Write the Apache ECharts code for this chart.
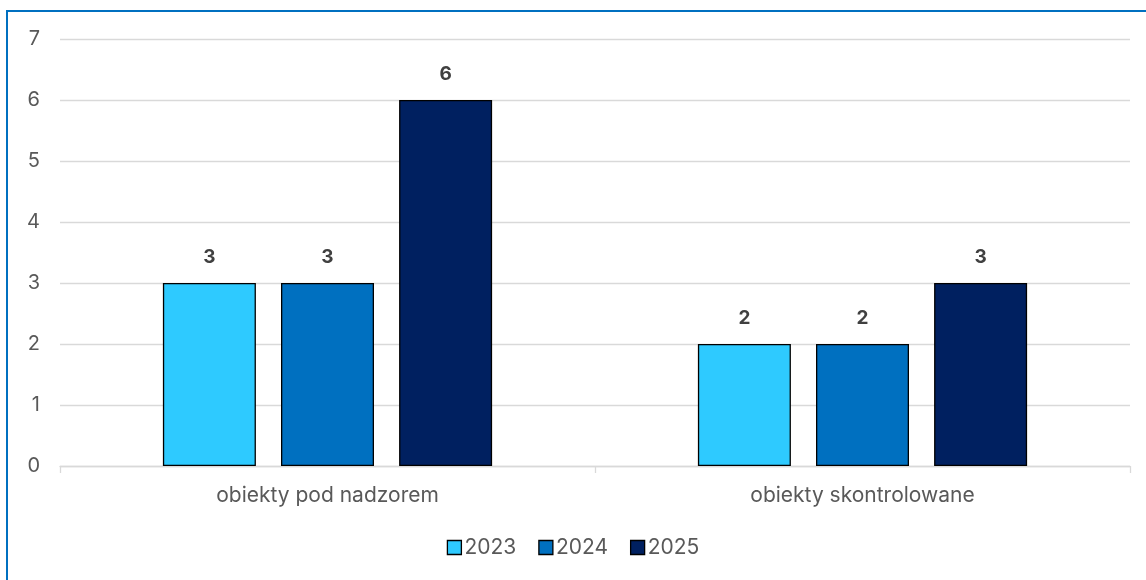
<!DOCTYPE html>
<html lang="pl">
<head>
    <meta charset="UTF-8">
    <title>Obiekty</title>
    <script src="https://cdn.jsdelivr.net/npm/echarts@6/dist/echarts.min.js"></script>
    <style>
        html, body { margin: 0; padding: 0; overflow: hidden; background: #fff; }
        #frame { position: absolute; left: 6px; top: 10px; width: 1200px; height: 640px;
                 border: 2px solid #0070C0; box-sizing: border-box; }
        #myChart { position: absolute; left: 0; top: 0; width: 1146px; height: 580px; }
    </style>
</head>
<body>
 <div id="frame"></div>
 <div id="myChart"></div>
 <script>
     var categories = ['obiekty pod nadzorem', 'obiekty skontrolowane'];
     var years = ['2023', '2024', '2025'];
     var values2023 = [3, 2];
     var values2024 = [3, 2];
     var values2025 = [6, 3];
     var colors = ['#2ECAFF', '#0070C0', '#002060'];

     var allValues = [values2023, values2024, values2025];
     var font = 'Inter, "Open Sans", sans-serif';

     var series = years.map(function (y, i) {
         return {
             name: y,
             type: 'bar',
             data: allValues[i],
             barWidth: 93,
             barGap: '27%',
             itemStyle: { color: colors[i], borderColor: '#000', borderWidth: 1.3 },
             label: {
                 show: true,
                 position: 'top',
                 distance: 16,
                 color: '#404040',
                 fontWeight: 'bold',
                 fontSize: 19,
                 fontFamily: font
             }
         };
     });

     var option = {
         animation: false,
         grid: { left: 60, right: 16, top: 39, bottom: 114 },
         legend: {
             data: years,
             bottom: 17,
             left: 'center',
             itemWidth: 14,
             itemHeight: 14,
             itemGap: 22,
             icon: 'rect',
             itemStyle: { borderColor: '#000', borderWidth: 1.3 },
             textStyle: { color: '#595959', fontSize: 21, fontFamily: font, padding: [0, 0, 0, -2] }
         },
         xAxis: {
             type: 'category',
             data: categories,
             axisLine: { lineStyle: { color: '#d9d9d9', width: 1.3 } },
             axisTick: { show: true, length: 7, lineStyle: { color: '#d9d9d9', width: 1.3 } },
             axisLabel: { color: '#595959', fontSize: 21, fontFamily: font, margin: 19 }
         },
         yAxis: {
             type: 'value',
             min: 0,
             max: 7,
             interval: 1,
             axisLine: { show: false },
             axisTick: { show: false },
             splitLine: { lineStyle: { color: '#d9d9d9', width: 1.3 } },
             axisLabel: { color: '#595959', fontSize: 20, fontFamily: font, margin: 20 }
         },
         series: series
     };

     var myChart = echarts.init(document.getElementById('myChart'));
     myChart.setOption(option);
 </script>
</body>
</html>
